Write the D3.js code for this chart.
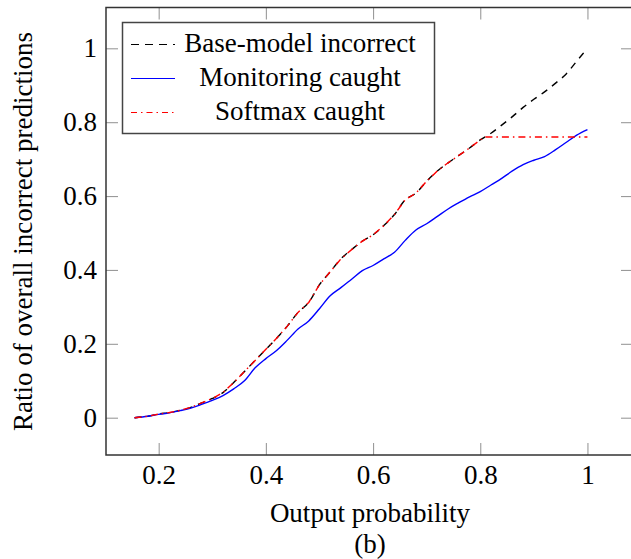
<!DOCTYPE html>
<html>
<head>
<meta charset="utf-8">
<script src="https://cdn.jsdelivr.net/npm/d3@7"></script>
<style>
  body { margin: 0; background: #fff; }
  svg text { font-family: "Liberation Serif", "Times New Roman", Times, serif; }
</style>
</head>
<body>
<div id="chart"></div>
<script>
// Output probability thresholds (x values)
const probs = [0.155, 0.18, 0.2, 0.22, 0.24, 0.26, 0.28, 0.3, 0.32, 0.34, 0.36, 0.38, 0.4,
  0.42, 0.44, 0.46, 0.48, 0.5, 0.52, 0.54, 0.56, 0.58, 0.6, 0.62, 0.64, 0.66, 0.68, 0.7,
  0.72, 0.74, 0.76, 0.78, 0.8, 0.82, 0.84, 0.86, 0.88, 0.9, 0.92, 0.94, 0.96, 0.98, 1.0];

// Base-model incorrect (black dashed)
const baseIncorrect = [0, 0.004, 0.01, 0.014, 0.02, 0.028, 0.04, 0.052, 0.068, 0.095, 0.125, 0.155, 0.185,
  0.215, 0.248, 0.285, 0.312, 0.36, 0.395, 0.43, 0.455, 0.478, 0.495, 0.52, 0.55, 0.59, 0.608, 0.64,
  0.668, 0.69, 0.71, 0.73, 0.752, 0.77, 0.792, 0.815, 0.84, 0.862, 0.882, 0.905, 0.93, 0.965, 1.0];

// Monitoring caught (blue solid)
const monitoringCaught = [0, 0.004, 0.009, 0.013, 0.019, 0.026, 0.036, 0.047, 0.06, 0.078, 0.1, 0.135, 0.16,
  0.182, 0.21, 0.24, 0.262, 0.295, 0.33, 0.352, 0.375, 0.398, 0.412, 0.43, 0.448, 0.48, 0.508, 0.525,
  0.545, 0.565, 0.582, 0.598, 0.612, 0.63, 0.648, 0.668, 0.685, 0.697, 0.707, 0.725, 0.745, 0.765, 0.78];

// Softmax caught (red dash-dot): follows base model, then flat
const softmaxProbs = [0.155, 0.18, 0.2, 0.22, 0.24, 0.26, 0.28, 0.3, 0.32, 0.34, 0.36, 0.38, 0.4,
  0.42, 0.44, 0.46, 0.48, 0.5, 0.52, 0.54, 0.56, 0.58, 0.6, 0.62, 0.64, 0.66, 0.68, 0.7,
  0.72, 0.74, 0.76, 0.78, 0.8, 0.81, 1.0];
const softmaxCaught = [0, 0.004, 0.01, 0.014, 0.02, 0.028, 0.04, 0.052, 0.068, 0.095, 0.125, 0.155, 0.185,
  0.215, 0.248, 0.285, 0.312, 0.36, 0.395, 0.43, 0.455, 0.478, 0.495, 0.52, 0.55, 0.59, 0.608, 0.64,
  0.668, 0.69, 0.71, 0.73, 0.752, 0.76, 0.76];

const xTicks = [0.2, 0.4, 0.6, 0.8, 1];
const yTicks = [0, 0.2, 0.4, 0.6, 0.8, 1];

const seriesNames = ["Base-model incorrect", "Monitoring caught", "Softmax caught"];

const W = 631, H = 559;
const frame = { left: 106, right: 633, top: 7.5, bottom: 455 };
const serif = "'Liberation Serif', 'Times New Roman', Times, serif";

const svg = d3.select("#chart").append("svg")
  .attr("width", W)
  .attr("height", H)
  .style("display", "block");

const x = d3.scaleLinear().domain([0.1017, 1.085]).range([frame.left, frame.right]);
const y = d3.scaleLinear().domain([0, 1]).range([417.7, 48.3]);

const fmt = d3.format("~g");

// clip for plot area
svg.append("clipPath").attr("id", "clip")
  .append("rect").attr("x", frame.left).attr("y", frame.top)
  .attr("width", frame.right - frame.left).attr("height", frame.bottom - frame.top);

// axes with inward ticks
function styleAxis(g) {
  g.attr("font-family", serif).attr("font-size", 27);
  g.select(".domain").remove();
  g.selectAll(".tick line").attr("stroke", "#9a9a9a").attr("stroke-width", 1.1);
  g.selectAll(".tick text").attr("fill", "#000");
}

svg.append("g")
  .attr("transform", `translate(0,${frame.bottom})`)
  .call(d3.axisBottom(x).tickValues(xTicks).tickSize(-12).tickPadding(10).tickFormat(fmt))
  .call(styleAxis);

svg.append("g")
  .attr("transform", `translate(0,${frame.top})`)
  .call(d3.axisTop(x).tickValues(xTicks).tickSize(-12).tickFormat(""))
  .call(styleAxis);

svg.append("g")
  .attr("transform", `translate(${frame.left},0)`)
  .call(d3.axisLeft(y).tickValues(yTicks).tickSize(-12).tickPadding(9).tickFormat(fmt))
  .call(styleAxis);

svg.append("g")
  .attr("transform", `translate(${frame.right},0)`)
  .call(d3.axisRight(y).tickValues(yTicks).tickSize(-12).tickFormat(""))
  .call(styleAxis);

// frame
svg.append("rect")
  .attr("x", frame.left).attr("y", frame.top)
  .attr("width", frame.right - frame.left).attr("height", frame.bottom - frame.top)
  .attr("fill", "none").attr("stroke", "#333").attr("stroke-width", 1.5);

// lines
const line = d3.line().curve(d3.curveMonotoneX).x(d => x(d[0])).y(d => y(d[1]));
const plot = svg.append("g").attr("clip-path", "url(#clip)");

const styles = [
  { color: "#000", dash: "7,6" },
  { color: "#0000ff", dash: null },
  { color: "#ff0000", dash: "7,4,1.5,4" }
];

const baseData = d3.zip(probs, baseIncorrect);
const monData = d3.zip(probs, monitoringCaught);
const softData = d3.zip(softmaxProbs, softmaxCaught);

[baseData, monData, softData].forEach((data, i) => {
  plot.append("path")
    .datum(data)
    .attr("fill", "none")
    .attr("stroke", styles[i].color)
    .attr("stroke-width", 1.4)
    .attr("stroke-dasharray", styles[i].dash)
    .attr("d", i === 2 ? d3.line().x(d => x(d[0])).y(d => y(d[1])) : line);
});

// legend
const legend = svg.append("g").attr("font-family", serif).attr("font-size", 27);
legend.append("rect")
  .attr("x", 122.5).attr("y", 22.5).attr("width", 312).attr("height", 111)
  .attr("fill", "#fff").attr("stroke", "#444").attr("stroke-width", 1.5);

seriesNames.forEach((name, i) => {
  const ly = 44.5 + i * 34;
  legend.append("line")
    .attr("x1", 131).attr("x2", 175).attr("y1", ly).attr("y2", ly)
    .attr("stroke", styles[i].color).attr("stroke-width", 1.2)
    .attr("stroke-dasharray", i === 0 ? "8,6" : (i === 2 ? "6,4,1.5,4" : null));
  legend.append("text")
    .attr("x", 300).attr("y", ly + 7)
    .attr("text-anchor", "middle")
    .text(name);
});

// axis labels
const labels = svg.append("g").attr("font-family", serif).attr("font-size", 27);

labels.append("text")
  .attr("x", 370).attr("y", 522)
  .attr("text-anchor", "middle")
  .text("Output probability");

labels.append("text")
  .attr("x", 370).attr("y", 553)
  .attr("text-anchor", "middle")
  .text("(b)");

labels.append("text")
  .attr("transform", "translate(32,231.5) rotate(-90)")
  .attr("text-anchor", "middle")
  .text("Ratio of overall incorrect predictions");
</script>
</body>
</html>
